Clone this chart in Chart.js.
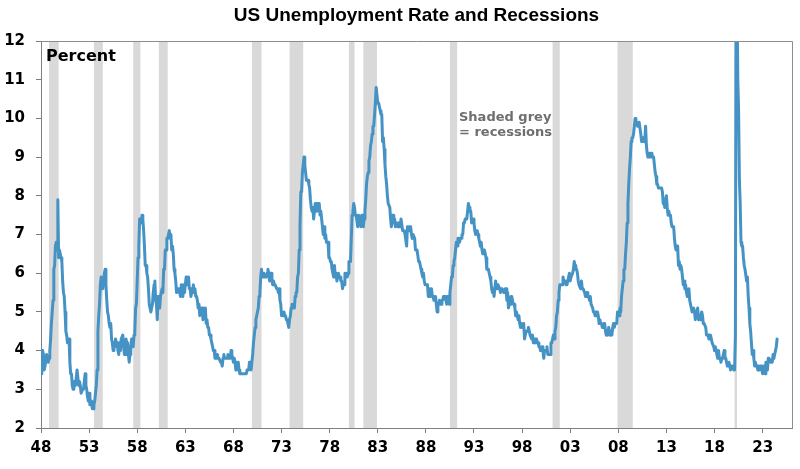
<!DOCTYPE html>
<html>
<head>
<meta charset="utf-8">
<script src="https://cdn.jsdelivr.net/npm/chart.js@4.4.1/dist/chart.umd.min.js"></script>
<style>
  html, body { margin: 0; padding: 0; background: #ffffff; }
  #wrap { width: 800px; height: 469px; }
</style>
</head>
<body>
<div id="wrap"><canvas id="myChart" width="800" height="469"></canvas></div>
<script>
// monthly US unemployment rate, starting Jan 1948
var startYear = 1948;
var rate = [
  3.4,3.8,4.0,3.9,3.5,3.6,3.6,3.9,3.8,3.7,3.8,4.0,
  4.3,4.7,5.0,5.3,6.1,6.2,6.7,6.8,6.6,7.9,6.4,6.6,
  6.5,6.4,6.3,5.8,5.5,5.4,5.0,4.5,4.4,4.2,4.2,4.3,
  3.7,3.4,3.4,3.1,3.0,3.2,3.1,3.1,3.3,3.5,3.5,3.1,
  3.2,3.1,2.9,2.9,3.0,3.0,3.2,3.4,3.1,3.0,2.8,2.7,
  2.9,2.6,2.6,2.7,2.5,2.5,2.6,2.7,2.9,3.1,3.5,4.5,
  4.9,5.2,5.7,5.9,5.9,5.6,5.8,6.0,6.1,5.7,5.3,5.0,
  4.9,4.7,4.6,4.7,4.3,4.2,4.0,4.2,4.1,4.3,4.2,4.2,
  4.0,3.9,4.2,4.0,4.3,4.3,4.4,4.1,3.9,3.9,4.3,4.2,
  4.2,3.9,3.7,3.9,4.1,4.3,4.2,4.1,4.4,4.5,5.1,5.2,
  5.8,6.4,6.7,7.4,7.4,7.3,7.5,7.4,7.1,6.7,6.2,6.2,
  6.0,5.9,5.6,5.2,5.1,5.0,5.1,5.2,5.5,5.7,5.8,5.3,
  5.2,4.8,5.4,5.2,5.1,5.4,5.5,5.6,5.5,6.1,6.1,6.6,
  6.6,6.9,6.9,7.0,7.1,6.9,7.0,6.6,6.7,6.5,6.1,6.0,
  5.8,5.5,5.6,5.6,5.5,5.5,5.4,5.7,5.6,5.4,5.7,5.5,
  5.7,5.9,5.7,5.7,5.9,5.6,5.6,5.4,5.5,5.5,5.7,5.5,
  5.6,5.4,5.4,5.3,5.1,5.2,4.9,5.0,5.1,5.1,4.8,5.0,
  4.9,5.1,4.7,4.8,4.6,4.6,4.4,4.4,4.3,4.2,4.1,4.0,
  4.0,3.8,3.8,3.8,3.9,3.8,3.8,3.8,3.7,3.7,3.6,3.8,
  3.9,3.8,3.8,3.8,3.8,3.9,3.8,3.8,3.8,4.0,3.9,3.8,
  3.7,3.8,3.7,3.5,3.5,3.7,3.7,3.5,3.4,3.4,3.4,3.4,
  3.4,3.4,3.4,3.4,3.4,3.5,3.5,3.5,3.7,3.7,3.5,3.5,
  3.9,4.2,4.4,4.6,4.8,4.9,5.0,5.1,5.4,5.5,5.9,6.1,
  5.9,5.9,6.0,5.9,5.9,5.9,6.0,6.1,6.0,5.8,6.0,6.0,
  5.8,5.7,5.8,5.7,5.7,5.7,5.6,5.6,5.5,5.6,5.3,5.2,
  4.9,5.0,4.9,5.0,4.9,4.9,4.8,4.8,4.8,4.6,4.8,4.9,
  5.1,5.2,5.1,5.1,5.1,5.4,5.5,5.5,5.9,6.0,6.6,7.2,
  8.1,8.1,8.6,8.8,9.0,8.8,8.6,8.4,8.4,8.4,8.3,8.2,
  7.9,7.7,7.6,7.7,7.4,7.6,7.8,7.8,7.6,7.7,7.8,7.8,
  7.5,7.6,7.4,7.2,7.0,7.2,6.9,7.0,6.8,6.8,6.8,6.4,
  6.4,6.3,6.3,6.1,6.0,5.9,6.2,5.9,6.0,5.8,5.9,6.0,
  5.9,5.9,5.8,5.8,5.6,5.7,5.7,6.0,5.9,6.0,5.9,6.0,
  6.3,6.3,6.3,6.9,7.5,7.6,7.8,7.7,7.5,7.5,7.5,7.2,
  7.5,7.4,7.4,7.2,7.5,7.5,7.2,7.4,7.6,7.9,8.3,8.5,
  8.6,8.9,9.0,9.3,9.4,9.6,9.8,9.8,10.1,10.4,10.8,10.8,
  10.4,10.4,10.3,10.2,10.1,10.1,9.4,9.5,9.2,8.8,8.5,8.3,
  8.0,7.8,7.8,7.7,7.4,7.2,7.5,7.5,7.3,7.4,7.2,7.3,
  7.3,7.2,7.2,7.3,7.2,7.4,7.4,7.1,7.1,7.1,7.0,7.0,
  6.7,7.2,7.2,7.1,7.2,7.2,7.0,6.9,7.0,7.0,6.9,6.6,
  6.6,6.6,6.6,6.3,6.3,6.2,6.1,6.0,5.9,6.0,5.8,5.7,
  5.7,5.7,5.7,5.4,5.6,5.4,5.4,5.6,5.4,5.4,5.3,5.3,
  5.4,5.2,5.0,5.2,5.2,5.3,5.2,5.2,5.3,5.3,5.4,5.4,
  5.4,5.3,5.2,5.4,5.4,5.2,5.5,5.7,5.9,5.9,6.2,6.3,
  6.4,6.6,6.8,6.7,6.9,6.9,6.8,6.9,6.9,7.0,7.0,7.3,
  7.3,7.4,7.4,7.4,7.6,7.8,7.7,7.6,7.6,7.3,7.4,7.4,
  7.3,7.1,7.0,7.1,7.1,7.0,6.9,6.8,6.7,6.8,6.6,6.5,
  6.6,6.6,6.5,6.4,6.1,6.1,6.1,6.0,5.9,5.8,5.6,5.5,
  5.6,5.4,5.4,5.8,5.6,5.6,5.7,5.7,5.6,5.5,5.6,5.6,
  5.6,5.5,5.5,5.6,5.6,5.3,5.5,5.1,5.2,5.2,5.4,5.4,
  5.3,5.2,5.2,5.1,4.9,5.0,4.9,4.8,4.9,4.7,4.6,4.7,
  4.6,4.6,4.7,4.3,4.4,4.5,4.5,4.5,4.6,4.5,4.4,4.4,
  4.3,4.4,4.2,4.3,4.2,4.3,4.3,4.2,4.2,4.1,4.1,4.0,
  4.0,4.1,4.0,3.8,4.0,4.0,4.0,4.1,3.9,3.9,3.9,3.9,
  4.2,4.2,4.3,4.4,4.3,4.5,4.6,4.9,5.0,5.3,5.5,5.7,
  5.7,5.7,5.7,5.9,5.8,5.8,5.8,5.7,5.7,5.7,5.9,6.0,
  5.8,5.9,5.9,6.0,6.1,6.3,6.2,6.1,6.1,6.0,5.8,5.7,
  5.7,5.6,5.8,5.6,5.6,5.6,5.5,5.4,5.4,5.5,5.4,5.4,
  5.3,5.4,5.2,5.2,5.1,5.0,5.0,4.9,5.0,5.0,5.0,4.9,
  4.7,4.8,4.7,4.7,4.6,4.6,4.7,4.7,4.5,4.4,4.5,4.4,
  4.6,4.5,4.4,4.5,4.4,4.6,4.7,4.6,4.7,4.7,4.7,5.0,
  5.0,4.9,5.1,5.0,5.4,5.6,5.8,6.1,6.1,6.5,6.8,7.3,
  7.8,8.3,8.7,9.0,9.4,9.5,9.5,9.6,9.8,10.0,9.9,9.9,
  9.8,9.8,9.9,9.9,9.6,9.4,9.4,9.5,9.5,9.4,9.8,9.3,
  9.1,9.0,9.0,9.1,9.0,9.1,9.0,9.0,9.0,8.8,8.6,8.5,
  8.3,8.3,8.2,8.2,8.2,8.2,8.2,8.1,7.8,7.8,7.7,7.9,
  8.0,7.7,7.5,7.6,7.5,7.5,7.3,7.2,7.2,7.2,6.9,6.7,
  6.6,6.7,6.7,6.2,6.3,6.1,6.2,6.1,5.9,5.7,5.8,5.6,
  5.7,5.5,5.4,5.4,5.6,5.3,5.2,5.1,5.0,5.0,5.1,5.0,
  4.8,4.9,5.0,5.1,4.8,4.9,4.8,4.9,5.0,4.9,4.7,4.7,
  4.7,4.6,4.4,4.4,4.4,4.3,4.3,4.4,4.3,4.2,4.2,4.1,
  4.0,4.1,4.0,4.0,3.8,4.0,3.8,3.8,3.7,3.8,3.8,3.9,
  4.0,3.8,3.8,3.7,3.6,3.6,3.7,3.6,3.5,3.6,3.6,3.6,
  3.5,3.5,4.4,14.8,13.2,11.0,10.2,8.4,7.8,6.8,6.7,6.7,
  6.4,6.2,6.1,6.1,5.8,5.9,5.4,5.1,4.7,4.5,4.2,3.9,
  4.0,3.8,3.6,3.7,3.6,3.6,3.5,3.6,3.5,3.6,3.6,3.5,
  3.4,3.6,3.5,3.4,3.7,3.6,3.5,3.8,3.8,3.8,3.7,3.7,
  3.7,3.9,3.8,3.9,4.0,4.1,4.3
];

// recession months (first month, last month)
var recessionStart = ['1948-11','1953-07','1957-08','1960-04','1969-12','1973-11','1980-01','1981-07','1990-07','2001-03','2007-12','2020-02'];
var recessionEnd   = ['1949-10','1954-05','1958-04','1961-02','1970-11','1975-03','1980-07','1982-11','1991-03','2001-11','2009-06','2020-04'];

var tickYears = [1948,1953,1958,1963,1968,1973,1978,1983,1988,1993,1998,2003,2008,2013,2018,2023];
var yTicks = [2,3,4,5,6,7,8,9,10,11,12];

function monthStart(s) {
  var p = s.split('-');
  return parseInt(p[0]) + (parseInt(p[1]) - 1) / 12;
}

var points = [];
for (var i = 0; i < rate.length; i++) {
  points.push({ x: startYear + i / 12, y: rate[i] });
}

var recessionPlugin = {
  id: 'recessions',
  beforeDatasetsDraw: function(chart) {
    var ctx = chart.ctx;
    var xs = chart.scales.x;
    var area = chart.chartArea;
    ctx.save();
    ctx.fillStyle = '#d9d9d9';
    for (var i = 0; i < recessionStart.length; i++) {
      var x1 = xs.getPixelForValue(monthStart(recessionStart[i]));
      var x2 = xs.getPixelForValue(monthStart(recessionEnd[i]) + 1 / 12);
      ctx.fillRect(x1, area.top, x2 - x1, area.bottom - area.top);
    }
    ctx.restore();
  }
};

var textPlugin = {
  id: 'texts',
  afterDraw: function(chart) {
    var ctx = chart.ctx;
    var area = chart.chartArea;
    ctx.save();
    // top and right frame
    ctx.strokeStyle = '#8c8c8c';
    ctx.lineWidth = 1;
    ctx.beginPath();
    ctx.moveTo(area.left, area.top + 0.5);
    ctx.lineTo(area.right + 0.5, area.top + 0.5);
    ctx.lineTo(area.right + 0.5, area.bottom);
    ctx.stroke();

    ctx.textBaseline = 'middle';
    ctx.fillStyle = '#000000';
    ctx.textAlign = 'center';
    ctx.font = 'bold 19px "Liberation Sans", Arial, sans-serif';
    ctx.fillText('US Unemployment Rate and Recessions', (area.left + area.right) / 2, 16);

    ctx.textAlign = 'left';
    ctx.font = 'bold 16px "DejaVu Sans", sans-serif';
    ctx.fillText('Percent', 46, 57);

    ctx.fillStyle = '#6e6e6e';
    ctx.font = 'bold 13px "DejaVu Sans", sans-serif';
    ctx.fillText('Shaded grey', 459, 118);
    ctx.fillText('= recessions', 459, 133);
    ctx.restore();
  }
};

var ctx = document.getElementById('myChart').getContext('2d');
var myChart = new Chart(ctx, {
  type: 'line',
  data: {
    datasets: [{
      label: 'Unemployment rate',
      data: points,
      borderColor: '#4592c4',
      borderWidth: 3,
      borderJoinStyle: 'round',
      borderCapStyle: 'round',
      pointRadius: 0,
      tension: 0,
      fill: false
    }]
  },
  options: {
    responsive: false,
    animation: false,
    layout: { padding: { top: 41, right: 8, bottom: 0, left: 0 } },
    plugins: {
      legend: { display: false },
      title: { display: false },
      tooltip: { enabled: false }
    },
    scales: {
      x: {
        type: 'linear',
        min: 1948,
        max: 2026.05,
        afterFit: function(scale) { scale.height = 41; },
        afterBuildTicks: function(scale) {
          scale.ticks = tickYears.map(function(v) { return { value: v }; });
        },
        grid: { drawOnChartArea: false, drawTicks: true, tickLength: 5, color: '#7f7f7f' },
        border: { color: '#7f7f7f', width: 1 },
        ticks: {
          autoSkip: false,
          maxRotation: 0,
          padding: 6,
          color: '#000000',
          font: { family: '"DejaVu Sans", sans-serif', size: 15, weight: 'bold' },
          callback: function(v) { return String(v).slice(2); }
        }
      },
      y: {
        min: 2,
        max: 12,
        afterFit: function(scale) { scale.width = 41; },
        afterBuildTicks: function(scale) {
          scale.ticks = yTicks.map(function(v) { return { value: v }; });
        },
        grid: { drawOnChartArea: false, drawTicks: true, tickLength: 5, color: '#7f7f7f' },
        border: { color: '#7f7f7f', width: 1 },
        ticks: {
          padding: 11,
          color: '#000000',
          font: { family: '"DejaVu Sans", sans-serif', size: 15, weight: 'bold' }
        }
      }
    }
  },
  plugins: [recessionPlugin, textPlugin]
});
</script>
</body>
</html>
